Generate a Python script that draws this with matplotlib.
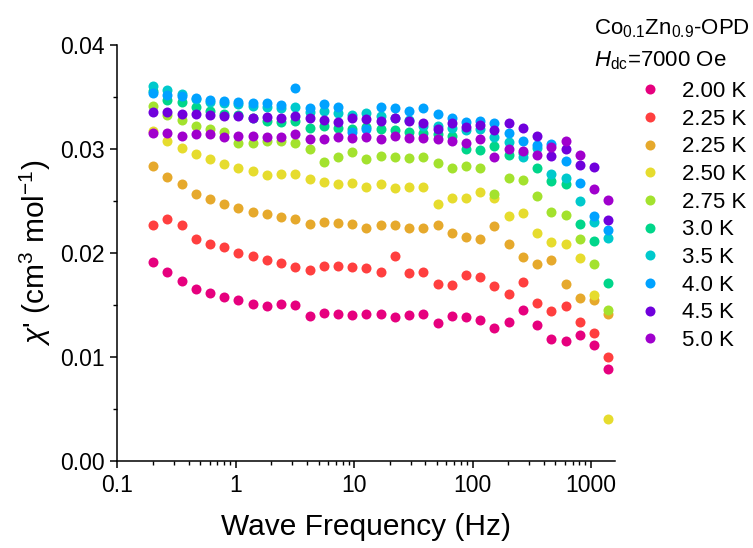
# ac susceptibility chi' vs frequency, Co0.1Zn0.9-OPD at Hdc = 7000 Oe
import numpy as np
import matplotlib
matplotlib.use("Agg")
import matplotlib.pyplot as plt
from matplotlib.ticker import FixedLocator, MultipleLocator, NullFormatter

plt.rcParams['font.family'] = ['Liberation Sans', 'DejaVu Sans']
plt.rcParams['mathtext.fontset'] = 'custom'
plt.rcParams['mathtext.rm'] = 'Liberation Sans'
plt.rcParams['mathtext.it'] = 'Liberation Sans:italic'
plt.rcParams['mathtext.bf'] = 'Liberation Sans:bold'

freq = [0.2, 0.264, 0.348, 0.459, 0.605, 0.797, 1.05, 1.39, 1.83, 2.41,
        3.18, 4.20, 5.53, 7.30, 9.62, 12.7, 16.7, 22.1, 29.1, 38.4,
        50.6, 66.7, 88.0, 116, 153, 202, 266, 351, 463, 610,
        805, 1061, 1400]

labels = ['2.00 K', '2.25 K', '2.25 K', '2.50 K', '2.75 K',
          '3.0 K', '3.5 K', '4.0 K', '4.5 K', '5.0 K']
colors = ['#E6007E', '#FF3F3F', '#E6A92C', '#E6DC2E', '#A3E22E',
          '#00D68A', '#00C9CC', '#00A2FF', '#7000DC', '#A000CD']

chi_200 = [0.0192, 0.0182, 0.0173, 0.0166, 0.0162, 0.0158, 0.0155, 0.0151, 0.0149, 0.0151,
           0.0150, 0.0140, 0.0143, 0.0142, 0.0141, 0.0142, 0.0142, 0.0139, 0.0141, 0.0142,
           0.0133, 0.0140, 0.0139, 0.0136, 0.0128, 0.0134, 0.0145, 0.0131, 0.0118, 0.0116,
           0.0121, 0.0112, 0.0089]
chi_225a = [0.0227, 0.0233, 0.0227, 0.0214, 0.0209, 0.0206, 0.0200, 0.0197, 0.0193, 0.0191,
            0.0187, 0.0184, 0.0188, 0.0188, 0.0187, 0.0186, 0.0182, 0.0197, 0.0181, 0.0182,
            0.0170, 0.0169, 0.0179, 0.0177, 0.0168, 0.0161, 0.0172, 0.0152, 0.0144, 0.0149,
            0.0134, 0.0123, 0.0100]
chi_225b = [0.0284, 0.0273, 0.0266, 0.0257, 0.0252, 0.0247, 0.0243, 0.0240, 0.0238, 0.0235,
            0.0233, 0.0228, 0.0230, 0.0229, 0.0228, 0.0224, 0.0227, 0.0227, 0.0224, 0.0224,
            0.0227, 0.0219, 0.0216, 0.0214, 0.0226, 0.0209, 0.0196, 0.0190, 0.0193, 0.0170,
            0.0157, 0.0155, 0.0142]
chi_250 = [0.0317, 0.0308, 0.0301, 0.0295, 0.0290, 0.0286, 0.0282, 0.0279, 0.0275, 0.0276,
           0.0276, 0.0271, 0.0268, 0.0266, 0.0267, 0.0264, 0.0266, 0.0263, 0.0264, 0.0264,
           0.0247, 0.0253, 0.0253, 0.0259, 0.0253, 0.0236, 0.0239, 0.0219, 0.0211, 0.0209,
           0.0195, 0.0160, 0.0041]
chi_275 = [0.0341, 0.0333, 0.0328, 0.0322, 0.0319, 0.0316, 0.0306, 0.0306, 0.0308, 0.0308,
           0.0306, 0.0300, 0.0288, 0.0292, 0.0297, 0.0290, 0.0293, 0.0292, 0.0291, 0.0292,
           0.0287, 0.0282, 0.0284, 0.0282, 0.0257, 0.0272, 0.0270, 0.0255, 0.0240, 0.0237,
           0.0214, 0.0190, 0.0145]
chi_300 = [0.0356, 0.0347, 0.0345, 0.0340, 0.0337, 0.0334, 0.0333, 0.0330, 0.0327, 0.0326,
           0.0327, 0.0320, 0.0322, 0.0320, 0.0319, 0.0321, 0.0319, 0.0318, 0.0316, 0.0315,
           0.0314, 0.0313, 0.0300, 0.0299, 0.0303, 0.0294, 0.0296, 0.0282, 0.0269, 0.0266,
           0.0228, 0.0212, 0.0171]
chi_350 = [0.0361, 0.0357, 0.0353, 0.0348, 0.0345, 0.0344, 0.0343, 0.0341, 0.0340, 0.0339,
           0.0340, 0.0336, 0.0337, 0.0335, 0.0333, 0.0335, 0.0332, 0.0330, 0.0328, 0.0322,
           0.0322, 0.0320, 0.0318, 0.0319, 0.0312, 0.0307, 0.0292, 0.0301, 0.0276, 0.0272,
           0.0250, 0.0230, 0.0215]
chi_400 = [0.0354, 0.0352, 0.0351, 0.0349, 0.0347, 0.0346, 0.0345, 0.0344, 0.0344, 0.0342,
           0.0359, 0.0339, 0.0343, 0.0340, 0.0316, 0.0319, 0.0340, 0.0339, 0.0337, 0.0339,
           0.0334, 0.0330, 0.0326, 0.0327, 0.0325, 0.0315, 0.0308, 0.0304, 0.0305, 0.0289,
           0.0267, 0.0236, 0.0222]
chi_450 = [0.0336, 0.0336, 0.0334, 0.0334, 0.0333, 0.0332, 0.0332, 0.0330, 0.0331, 0.0330,
           0.0332, 0.0330, 0.0328, 0.0326, 0.0330, 0.0329, 0.0327, 0.0330, 0.0327, 0.0325,
           0.0319, 0.0325, 0.0321, 0.0323, 0.0318, 0.0325, 0.0320, 0.0313, 0.0293, 0.0300,
           0.0285, 0.0283, 0.0232]
chi_500 = [0.0315, 0.0315, 0.0313, 0.0314, 0.0314, 0.0312, 0.0313, 0.0313, 0.0312, 0.0312,
           0.0314, 0.0310, 0.0310, 0.0312, 0.0311, 0.0312, 0.0310, 0.0313, 0.0311, 0.0311,
           0.0310, 0.0308, 0.0306, 0.0310, 0.0292, 0.0300, 0.0298, 0.0294, 0.0302, 0.0308,
           0.0294, 0.0262, 0.0251]

series = [chi_200, chi_225a, chi_225b, chi_250, chi_275,
          chi_300, chi_350, chi_400, chi_450, chi_500]

fig = plt.figure(figsize=(7.53, 5.48), dpi=100)
ax = fig.add_axes([0.156, 0.158, 0.661, 0.76])

for vals, lab, col in zip(series, labels, colors):
    ax.plot(freq, vals, linestyle='none', marker='o', markersize=7.2,
            markeredgewidth=0, color=col, label=lab)

ax.set_xscale('log')
ax.set_xlim(0.1, 1604)
ax.set_ylim(0.0, 0.04)

ax.xaxis.set_major_locator(FixedLocator([0.1, 1, 10, 100, 1000]))
ax.set_xticklabels(['0.1', '1', '10', '100', '1000'])
minors = [m * 10.0 ** e for e in range(-1, 3) for m in range(2, 10)]
ax.xaxis.set_minor_locator(FixedLocator(minors))
ax.xaxis.set_minor_formatter(NullFormatter())
ax.yaxis.set_major_locator(MultipleLocator(0.01))
ax.yaxis.set_minor_locator(MultipleLocator(0.005))
ax.yaxis.set_major_formatter(plt.FormatStrFormatter('%.2f'))

for side in ['top', 'right']:
    ax.spines[side].set_visible(False)
for side in ['left', 'bottom']:
    ax.spines[side].set_linewidth(1.1)

ax.tick_params(which='major', direction='out', length=5, width=1.1,
               labelsize=16.5, pad=4)
ax.tick_params(which='minor', direction='out', length=2.6, width=1.0)

ax.set_xlabel('Wave Frequency (Hz)', fontsize=21.5)
ax.xaxis.set_label_coords(0.5, -0.125)
ax.set_ylabel(r"$\chi$' (cm$^3$ mol$^{-1}$)", fontsize=21.5)
ax.yaxis.set_label_coords(-0.13, 0.5)

fig.text(0.789, 0.938, r'Co$_{0.1}$Zn$_{0.9}$-OPD', fontsize=16,
         ha='left', va='baseline')
fig.text(0.789, 0.878, r'$\mathit{H}_{\mathrm{dc}}$=7000 Oe', fontsize=16,
         ha='left', va='baseline')

ax.legend(loc='upper left', bbox_to_anchor=(0.849, 0.852),
          bbox_transform=fig.transFigure, frameon=False, fontsize=16,
          handlelength=1.0, handletextpad=0.9, labelspacing=0.3,
          borderpad=0, borderaxespad=0, numpoints=1)

fig.savefig('out.png', dpi=100)
